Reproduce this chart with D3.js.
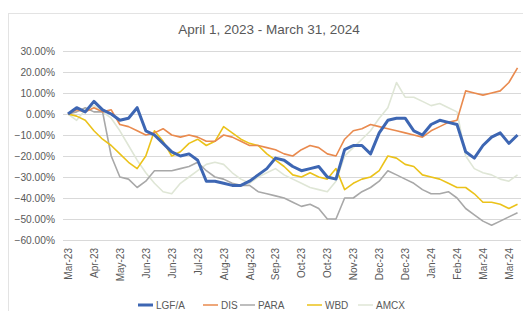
<!DOCTYPE html>
<html>
<head>
<meta charset="utf-8">
<script src="https://cdn.jsdelivr.net/npm/d3@7"></script>
<style>
  body { margin: 0; background: #fff; }
  svg { display: block; font-family: "Liberation Sans", Arial, sans-serif; }
  .grid line { stroke: #d9d9d9; stroke-width: 1; }
  .tick text { fill: #595959; }
</style>
</head>
<body>
<svg width="523" height="311"></svg>
<script>
// weekly closes, % change since Mar 31, 2023
const dates = ["2023-03-31","2023-04-07","2023-04-14","2023-04-21","2023-04-28","2023-05-05","2023-05-12","2023-05-19","2023-05-26",
  "2023-06-02","2023-06-09","2023-06-16","2023-06-23","2023-06-30","2023-07-07","2023-07-14","2023-07-21","2023-07-28",
  "2023-08-04","2023-08-11","2023-08-18","2023-08-25","2023-09-01","2023-09-08","2023-09-15","2023-09-22","2023-09-29",
  "2023-10-06","2023-10-13","2023-10-20","2023-10-27","2023-11-03","2023-11-10","2023-11-17","2023-11-24","2023-12-01",
  "2023-12-08","2023-12-15","2023-12-22","2023-12-29","2024-01-05","2024-01-12","2024-01-19","2024-01-26","2024-02-02",
  "2024-02-09","2024-02-16","2024-02-23","2024-03-01","2024-03-08","2024-03-15","2024-03-22","2024-03-29"];

const lgfa = [0,3,1,6,2,0,-3,-2,3,-8,-10,-14,-18,-20,-19,-22,-32,-32,-33,-34,-34,-32,-29,-26,-21,-22,-25,
  -27,-26,-25,-30,-31,-17,-15,-15,-19,-9,-3,-2,-2,-8,-10,-5,-3,-4,-5,-18,-21,-15,-11,-9,-14,-10];
const dis = [0,2,1,3,1,2,-5,-6,-8,-10,-9,-7,-10,-11,-10,-11,-13,-13,-10,-11,-13,-15,-15,-16,-17,-19,-20,
  -17,-15,-16,-19,-20,-12,-8,-7,-5,-6,-7,-8,-9,-10,-11,-8,-6,-4,-3,11,10,9,10,11,15,22];
const para = [0,1,3,1,1,-20,-30,-31,-35,-32,-27,-27,-27,-26,-25,-23,-27,-30,-31,-33,-34,-34,-37,-38,-39,-40,-42,
  -44,-43,-45,-50,-50,-40,-40,-37,-35,-32,-27,-29,-31,-33,-36,-38,-38,-37,-40,-45,-48,-51,-53,-51,-49,-47];
const wbd = [0,-1,-3,-8,-12,-15,-19,-23,-26,-20,-8,-13,-20,-18,-14,-12,-15,-13,-6,-9,-12,-14,-15,-19,-22,-25,-29,
  -30,-28,-30,-31,-26,-36,-33,-31,-30,-27,-20,-21,-24,-25,-29,-30,-31,-33,-35,-35,-38,-42,-42,-43,-45,-43];
const amcx = [0,-3,2,4,1,-2,-8,-15,-22,-28,-33,-37,-38,-33,-30,-27,-24,-23,-24,-28,-31,-33,-30,-28,-26,-29,-31,
  -33,-35,-36,-37,-32,-20,-16,-12,-8,-2,3,15,8,8,6,4,5,3,1,-20,-26,-28,-29,-31,-32,-29];

const seriesNames = ["LGF/A", "DIS", "PARA", "WBD", "AMCX"];
const seriesValues = [lgfa, dis, para, wbd, amcx];
const colors = ["#3d66b3", "#e98a4e", "#a8a8a8", "#ebc21a", "#dfe6d6"];

const yTicks = [30, 20, 10, 0, -10, -20, -30, -40, -50, -60];
const xTickDates = ["2023-03-31","2023-04-21","2023-05-12","2023-06-02","2023-06-23","2023-07-14","2023-08-04","2023-08-25",
  "2023-09-15","2023-10-06","2023-10-27","2023-11-17","2023-12-08","2023-12-29","2024-01-19","2024-02-09","2024-03-01","2024-03-22"];

const parse = d3.timeParse("%Y-%m-%d");
const svg = d3.select("svg");

// chart frame
svg.append("rect")
    .attr("x", 8.5).attr("y", 13.5)
    .attr("width", 530).attr("height", 310)
    .attr("fill", "none").attr("stroke", "#e3e3e3");

svg.append("text")
    .attr("x", 269).attr("y", 34)
    .attr("text-anchor", "middle")
    .attr("font-size", 13.5)
    .attr("fill", "#595959")
    .text("April 1, 2023 - March 31, 2024");

const x = d3.scaleTime()
    .domain([parse("2023-03-31"), parse("2024-03-31")])
    .range([68, 520]);

const y = d3.scaleLinear()
    .domain([-60, 30])
    .range([240, 51]);

// gridlines + y labels
const yAxis = svg.append("g")
    .attr("class", "grid")
    .attr("transform", "translate(63,0)")
    .call(d3.axisLeft(y).tickValues(yTicks).tickSize(-458).tickPadding(8)
        .tickFormat(d => d3.format(".2f")(d) + "%"));
yAxis.select(".domain").remove();
yAxis.selectAll("text").attr("font-size", 10.2);

// x labels
const xAxis = svg.append("g")
    .attr("transform", "translate(0,244)")
    .call(d3.axisBottom(x).tickValues(xTickDates.map(parse)).tickSize(0)
        .tickFormat(d3.timeFormat("%b-%y")));
xAxis.select(".domain").remove();
xAxis.selectAll("text")
    .attr("font-size", 10)
    .attr("transform", "rotate(-90)")
    .attr("text-anchor", "end")
    .attr("dx", "-0.4em")
    .attr("dy", "0.35em")
    .attr("x", 0).attr("y", 0);

// lines (thin ones first, LGF/A on top)
const line = d3.line()
    .x((d, i) => x(parse(dates[i])))
    .y(d => y(d));

const order = [4, 2, 3, 1, 0];
order.forEach(k => {
    svg.append("path")
        .datum(seriesValues[k])
        .attr("fill", "none")
        .attr("stroke", colors[k])
        .attr("stroke-width", k === 0 ? 3 : 1.6)
        .attr("stroke-linejoin", "round")
        .attr("d", line);
});

// legend
const legendX = [138, 203, 240, 307, 358];
const legend = svg.selectAll(".legend")
    .data(seriesNames)
    .join("g")
    .attr("class", "legend")
    .attr("transform", (d, i) => `translate(${legendX[i]},305)`);

legend.append("line")
    .attr("x1", 0).attr("x2", 15)
    .attr("stroke", (d, i) => colors[i])
    .attr("stroke-width", (d, i) => i === 0 ? 3 : 1.5);

legend.append("text")
    .attr("x", 18).attr("y", 3.5)
    .attr("font-size", 10)
    .attr("fill", "#595959")
    .text(d => d);
</script>
</body>
</html>
